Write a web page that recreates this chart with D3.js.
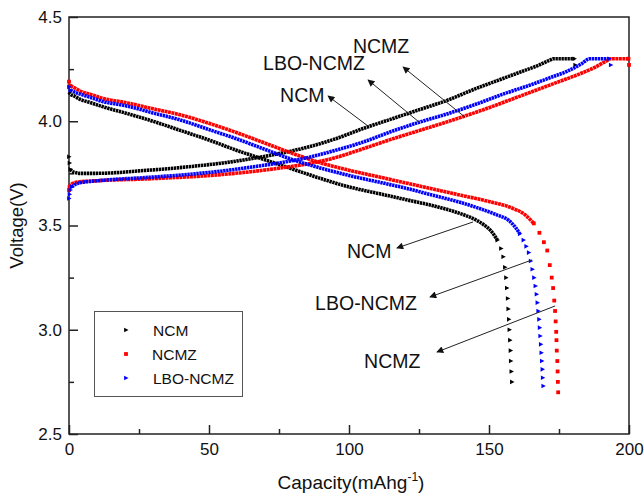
<!DOCTYPE html>
<html><head><meta charset="utf-8">
<script src="https://cdn.jsdelivr.net/npm/d3@7"></script>
<style>
body{margin:0;background:#fff;}
svg{display:block;font-family:Arial,"Liberation Sans",sans-serif;}
</style></head>
<body><svg id="chart" width="644" height="496"></svg>
<script>
// ---------- data (capacity mAh/g, voltage V) ----------
const xTicks = [0, 50, 100, 150, 200];
const yTicks = [2.5, 3.0, 3.5, 4.0, 4.5];
const seriesNames = ["NCM", "NCMZ", "LBO-NCMZ"];

const ncmCharge = [[0,3.83],[0.2,3.80],[0.5,3.77],[1,3.76],[2,3.755],[4,3.75],[8,3.75],[15,3.752],[25,3.762],[35,3.772],[45,3.785],[55,3.80],[65,3.82],[75,3.845],[85,3.875],[95,3.915],[105,3.965],[115,4.01],[125,4.055],[135,4.10],[145,4.155],[155,4.205],[162,4.24],[168,4.27],[172,4.295],[173,4.30],[180.5,4.30],[180.8,4.27]];
const ncmDischarge = [[0,4.14],[0.5,4.13],[2,4.12],[4,4.105],[7.5,4.09],[12,4.07],[20,4.04],[30,4.00],[40,3.955],[50,3.91],[60,3.86],[70,3.815],[80,3.77],[90,3.725],[100,3.685],[110,3.655],[120,3.625],[130,3.595],[138,3.565],[144,3.535],[148,3.505],[151,3.47],[153,3.43],[154.3,3.39],[155.1,3.35],[155.7,3.30],[156.1,3.25],[156.4,3.20],[156.7,3.15],[156.9,3.10],[157.1,3.05],[157.3,3.00],[157.5,2.95],[157.7,2.90],[157.8,2.85],[158,2.80],[158.2,2.75]];

const ncmzCharge = [[0,3.67],[0.2,3.685],[0.5,3.695],[1,3.70],[2,3.705],[4,3.71],[8,3.713],[15,3.718],[25,3.722],[35,3.728],[45,3.735],[55,3.745],[65,3.758],[75,3.775],[85,3.795],[95,3.825],[105,3.868],[115,3.913],[125,3.955],[135,3.997],[142,4.028],[150,4.065],[160,4.115],[168,4.155],[175,4.19],[182,4.225],[188,4.26],[192,4.29],[193.5,4.30],[199.8,4.30],[200,4.27]];
const ncmzDischarge = [[0,4.19],[0.5,4.17],[2,4.16],[4,4.145],[7.5,4.13],[12,4.11],[20,4.09],[30,4.06],[40,4.03],[50,3.99],[60,3.945],[70,3.895],[80,3.845],[90,3.80],[100,3.765],[110,3.735],[120,3.705],[130,3.675],[140,3.645],[150,3.615],[158,3.585],[163,3.55],[166,3.51],[168,3.465],[169.6,3.42],[170.8,3.38],[171.7,3.31],[172.4,3.25],[172.9,3.20],[173.3,3.14],[173.6,3.09],[173.8,3.04],[174.0,2.99],[174.1,2.95],[174.2,2.90],[174.4,2.85],[174.5,2.80],[174.6,2.75],[174.7,2.70]];

const lboCharge = [[0,3.63],[0.2,3.65],[0.5,3.67],[1,3.685],[2,3.695],[4,3.705],[8,3.712],[15,3.72],[25,3.728],[35,3.737],[45,3.748],[55,3.762],[65,3.78],[75,3.80],[85,3.825],[95,3.86],[105,3.90],[115,3.95],[125,3.995],[135,4.035],[145,4.08],[155,4.13],[165,4.175],[172,4.21],[178,4.24],[183,4.275],[186,4.30],[193,4.30],[193.5,4.27]];
const lboDischarge = [[0,4.165],[0.5,4.15],[2,4.14],[4,4.13],[7.5,4.115],[12,4.095],[20,4.075],[30,4.04],[40,4.005],[50,3.96],[60,3.915],[70,3.865],[80,3.815],[90,3.775],[100,3.74],[110,3.71],[120,3.68],[130,3.645],[140,3.61],[148,3.575],[153,3.55],[157,3.525],[159.5,3.49],[161,3.46],[162.3,3.43],[163.3,3.40],[164.2,3.37],[164.9,3.33],[165.5,3.29],[166.1,3.25],[166.6,3.21],[167,3.17],[167.3,3.13],[167.6,3.09],[167.9,3.05],[168.1,3.01],[168.3,2.97],[168.5,2.93],[168.7,2.89],[168.9,2.85],[169.1,2.81],[169.2,2.77],[169.4,2.73]];

// ---------- layout ----------
const W = 644, H = 496;
const m = {left: 69, right: 15, top: 17, bottom: 62};
const svg = d3.select("#chart");
const x = d3.scaleLinear().domain([0, 200]).range([m.left, W - m.right]);
const y = d3.scaleLinear().domain([2.5, 4.5]).range([H - m.bottom, m.top]);

const series = [
  {name: seriesNames[0], color: "#000000", shape: "tri", curves: [ncmCharge, ncmDischarge]},
  {name: seriesNames[1], color: "#ff0000", shape: "sq",  curves: [ncmzCharge, ncmzDischarge]},
  {name: seriesNames[2], color: "#0000ff", shape: "tri", curves: [lboCharge, lboDischarge]}
];

// frame
svg.append("rect").attr("x", x(0)).attr("y", y(4.5)).attr("width", x(200) - x(0)).attr("height", y(2.5) - y(4.5))
  .attr("fill", "none").attr("stroke", "#222").attr("stroke-width", 1.5);

// axes
const xAxis = d3.axisBottom(x).tickValues(d3.range(0, 201, 25)).tickSize(0).tickFormat(d => xTicks.includes(d) ? d : "");
const gx = svg.append("g").attr("transform", `translate(0,${y(2.5)})`).call(xAxis);
gx.select(".domain").remove();
gx.selectAll(".tick line").attr("y2", d => xTicks.includes(d) ? -9 : -5).attr("stroke", "#222").attr("stroke-width", 1.5);
gx.selectAll(".tick text").attr("y", 9).attr("dy", "0.71em").attr("font-size", 17).attr("fill", "#111").attr("font-family", "Arial, 'Liberation Sans', sans-serif");

const yAxis = d3.axisLeft(y).tickValues(d3.range(2.5, 4.51, 0.25)).tickSize(0).tickFormat(d => yTicks.some(t => Math.abs(t - d) < 1e-6) ? d3.format(".1f")(d) : "");
const gy = svg.append("g").attr("transform", `translate(${x(0)},0)`).call(yAxis);
gy.select(".domain").remove();
gy.selectAll(".tick line").attr("x2", d => yTicks.some(t => Math.abs(t - d) < 1e-6) ? 9 : 5).attr("stroke", "#222").attr("stroke-width", 1.5);
gy.selectAll(".tick text").attr("x", -7).attr("font-size", 17).attr("fill", "#111").attr("font-family", "Arial, 'Liberation Sans', sans-serif");

// axis titles
const xt = svg.append("text").attr("x", (x(0) + x(200)) / 2 + 2).attr("y", 489).attr("text-anchor", "middle")
  .attr("font-size", 19).attr("fill", "#111");
xt.append("tspan").text("Capacity(mAhg");
xt.append("tspan").attr("font-size", 12).attr("dy", -8).text("-1");
xt.append("tspan").attr("dy", 8).text(")");
svg.append("text").attr("transform", `translate(23,${(y(2.5) + y(4.5)) / 2}) rotate(-90)`).attr("text-anchor", "middle")
  .attr("font-size", 18.5).attr("fill", "#111").text("Voltage(V)");

// marker glyphs
const triPath = (s) => `M${-s*0.45},${-s*0.55}L${s*0.6},0L${-s*0.45},${s*0.55}Z`;
function drawMarker(g, shape, color, px, py, s) {
  if (shape === "tri") g.append("path").attr("d", triPath(s)).attr("transform", `translate(${px},${py})`).attr("fill", color);
  else g.append("rect").attr("x", px - s/2).attr("y", py - s/2).attr("width", s).attr("height", s).attr("fill", color);
}

// series
const lineGen = d3.line().x(d => x(d[0])).y(d => y(d[1])).curve(d3.curveMonotoneX);
series.forEach(s => {
  const g = svg.append("g");
  s.curves.forEach(pts => {
    // split into runs of shallow segments (dense markers -> textured band); steep points get individual markers
    const runs = []; let run = [pts[0]]; const loose = new Set();
    for (let i = 1; i < pts.length; i++) {
      const dx = Math.abs(x(pts[i][0]) - x(pts[i-1][0])), dy = Math.abs(y(pts[i][1]) - y(pts[i-1][1]));
      const steep = dy > 3 && dy > 1.5 * dx;
      if (steep) { loose.add(i - 1); loose.add(i); if (run.length > 1) runs.push(run); run = [pts[i]]; }
      else run.push(pts[i]);
    }
    if (run.length > 1) runs.push(run);
    runs.forEach(r => {
      g.append("path").attr("d", lineGen(r)).attr("fill", "none").attr("stroke", s.color)
        .attr("stroke-width", 3.6)
        .attr("stroke-dasharray", s.shape === "sq" ? "3,0.5" : "2.4,0.6");
    });
    pts.forEach((p, i) => { if (loose.has(i)) drawMarker(g, s.shape, s.color, x(p[0]), y(p[1]), s.shape === "sq" ? 3.8 : 4.2); });
  });
});

// annotations (data coords)
const defs = svg.append("defs");
defs.append("marker").attr("id", "ah").attr("viewBox", "0 0 10 10").attr("refX", 9).attr("refY", 5)
  .attr("markerWidth", 10).attr("markerHeight", 7).attr("markerUnits", "userSpaceOnUse").attr("orient", "auto")
  .append("path").attr("d", "M0,0L10,5L0,10Z").attr("fill", "#111");

const labels = [
  {t: "NCMZ", c: 101.4, v: 4.327}, {t: "LBO-NCMZ", c: 69.3, v: 4.246}, {t: "NCM", c: 75.4, v: 4.092},
  {t: "NCM", c: 99.3, v: 3.344}, {t: "LBO-NCMZ", c: 87.9, v: 3.095}, {t: "NCMZ", c: 105.4, v: 2.817}
];
const arrows = [
  [106.8, 3.977, 92.5, 4.121], [125.4, 3.992, 106.8, 4.198], [141.4, 4.020, 119.3, 4.260],
  [144.3, 3.517, 117.1, 3.392], [165.4, 3.335, 128.9, 3.157], [173.6, 3.114, 131.4, 2.893]
];
arrows.forEach(a => svg.append("line").attr("x1", x(a[0])).attr("y1", y(a[1])).attr("x2", x(a[2])).attr("y2", y(a[3]))
  .attr("stroke", "#222").attr("stroke-width", 1).attr("marker-end", "url(#ah)"));
labels.forEach(l => svg.append("text").attr("x", x(l.c)).attr("y", y(l.v)).attr("font-size", 19.5).attr("fill", "#111").text(l.t));

// legend
const lg = svg.append("g");
lg.append("rect").attr("x", 94.5).attr("y", 311.5).attr("width", 148).attr("height", 85).attr("fill", "#fff").attr("stroke", "#555").attr("stroke-width", 1);
series.forEach((s, i) => {
  const cy = 330 + i * 24;
  drawMarker(lg, s.shape, s.color, 126, cy, s.shape === "sq" ? 3.8 : 4.2);
  lg.append("text").attr("x", i === 1 ? 152 : 153).attr("y", cy + 5.5).attr("font-size", 15.5).attr("fill", "#111").text(s.name);
});
</script></body></html>
